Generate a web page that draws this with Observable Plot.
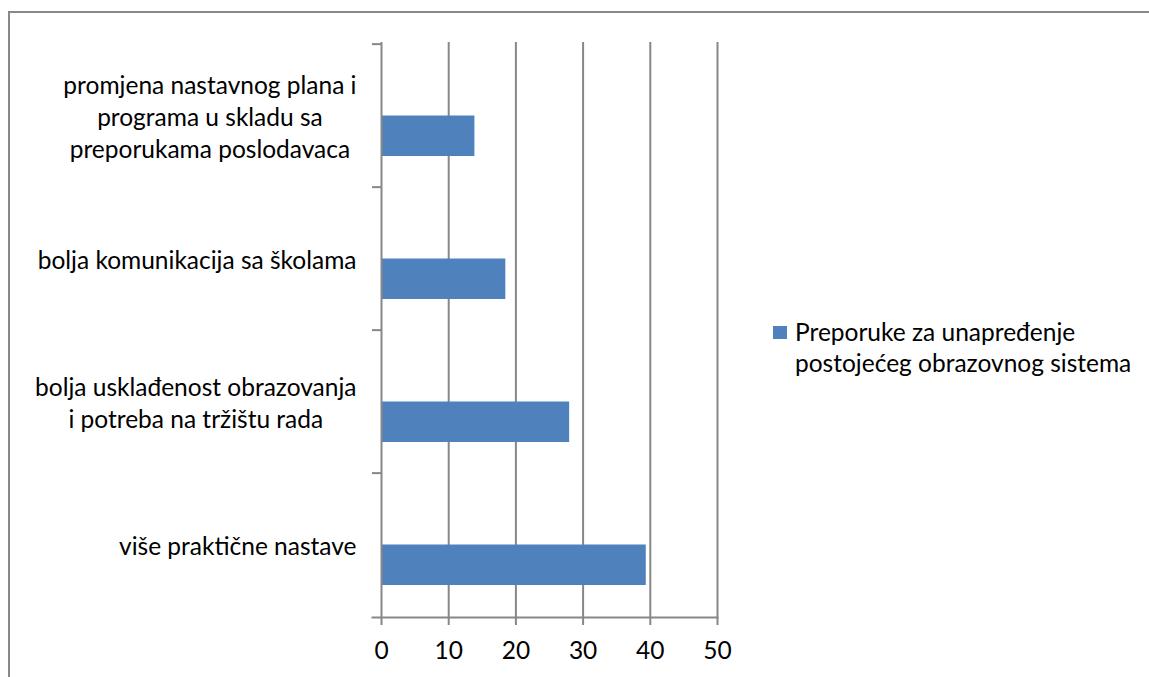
<!DOCTYPE html>
<html>
<head>
<meta charset="utf-8">
<script src="https://cdn.jsdelivr.net/npm/d3@7"></script>
<script src="https://cdn.jsdelivr.net/npm/@observablehq/plot@0.6"></script>
<style>
  html, body { margin: 0; padding: 0; background: #fff; }
  #wrap { position: relative; width: 1149px; height: 677px; overflow: hidden; font-family: Lato, "Open Sans", sans-serif; }
  #border { position: absolute; left: 8px; top: 11px; width: 1160px; height: 700px; border: 2px solid #888; box-sizing: border-box; pointer-events: none; }
  #legend { position: absolute; left: 773px; top: 316px; display: flex; align-items: flex-start; font-size: 24.5px; line-height: 31px; color: #000; }
  #legend .sw { width: 14px; height: 13px; background: #4F81BD; margin-top: 10px; margin-right: 8px; flex: none; }
</style>
</head>
<body>
<div id="wrap"><div id="border"></div></div>
<script>
const categories = [
  "promjena nastavnog plana i\nprograma u skladu sa\npreporukama poslodavaca",
  "bolja komunikacija sa školama",
  "bolja usklađenost obrazovanja\ni potreba na tržištu rada",
  "više praktične nastave"
];
const values = [13.9, 18.5, 28.0, 39.4];
const xTicks = [0, 10, 20, 30, 40, 50];
const seriesName = "Preporuke za unapređenje postojećeg obrazovnog sistema";
const barColor = "#4F81BD";
const gridColor = "#878787";

const data = categories.map((c, i) => ({cat: c, value: values[i]}));

const fontSize = 24.5;
const fontFamily = "Lato";
const ctx = document.createElement("canvas").getContext("2d");
ctx.font = `${fontSize}px ${fontFamily}`;
const blockWidth = c => d3.max(c.split("\n"), l => ctx.measureText(l).width);

const W = 1149, H = 677;
const mL = 381, mT = 42, mB = 60, mR = 432;
const band = (H - mT - mB) / categories.length;

const labelMarks = data.map(d => Plot.text([d], {
  x: () => 0, y: "cat", text: "cat",
  textAnchor: "middle", lineAnchor: "middle", lineHeight: 1.3,
  dx: -(25 + blockWidth(d.cat) / 2),
  fontSize, fill: "#000"
}));

const chart = Plot.plot({
  width: W, height: H,
  marginLeft: mL, marginRight: mR, marginTop: mT, marginBottom: mB,
  style: {fontFamily, fontSize: fontSize + "px", color: "#000", background: "transparent"},
  x: {domain: [0, 50], axis: null},
  y: {domain: categories, padding: 0, axis: null},
  marks: [
    Plot.ruleX(xTicks.filter(t => t > 0), {stroke: gridColor, strokeWidth: 2}),
    Plot.barX(data, {x: "value", y: "cat", fill: barColor, insetTop: 71.5, insetBottom: 31}),
    Plot.ruleX([0], {stroke: gridColor, strokeWidth: 2}),
    Plot.axisY({tickSize: 9, tickFormat: () => "", label: null, dy: -band / 2, stroke: gridColor, strokeWidth: 2}),
    Plot.frame({anchor: "bottom", stroke: gridColor, strokeWidth: 2, insetLeft: -9}),
    Plot.axisX({ticks: xTicks, tickSize: 8, tickPadding: 16, label: null, fontSize, stroke: gridColor, strokeWidth: 2, tickFormat: d => String(d)}),
    ...labelMarks
  ]
});
const wrap = document.getElementById("wrap");
wrap.insertBefore(chart, wrap.firstChild);
chart.style.position = "absolute"; chart.style.left = "0"; chart.style.top = "0";

const legend = document.createElement("div");
legend.id = "legend";
const sw = document.createElement("div"); sw.className = "sw";
sw.title = seriesName;
const tx = document.createElement("div");
tx.innerHTML = "Preporuke za unapređenje<br>postojećeg obrazovnog sistema";
legend.appendChild(sw); legend.appendChild(tx);
wrap.appendChild(legend);
</script>
</body>
</html>
